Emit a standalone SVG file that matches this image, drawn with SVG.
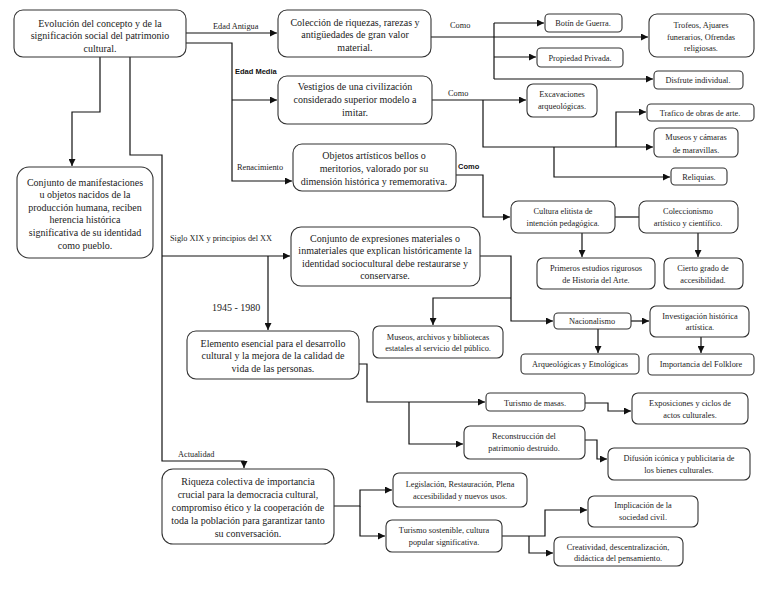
<svg xmlns="http://www.w3.org/2000/svg" width="768" height="594" viewBox="0 0 768 594">
<style>
.b{fill:#fff;stroke:#333;stroke-width:1.1}
.t{font-family:"Liberation Serif","Times New Roman",serif;font-size:10px;fill:#222;text-anchor:middle}
.s{font-size:8.3px}
.l{font-family:"Liberation Serif","Times New Roman",serif;font-size:8.3px;fill:#222}
.lb{font-family:"Liberation Sans",Arial,sans-serif;font-size:7.5px;font-weight:bold;fill:#111}
.c{fill:none;stroke:#111;stroke-width:1.2}
.a{marker-end:url(#ar)}
</style>
<defs>
<marker id="ar" markerUnits="userSpaceOnUse" viewBox="0 0 8 8" refX="8" refY="4" markerWidth="7" markerHeight="7" orient="auto">
<path d="M0,0 L8,4 L0,8 z" fill="#111"/>
</marker>
</defs>
<rect width="768" height="594" fill="#fff"/>
<g id="connectors">
<path class="c a" d="M186,33 H277"/>
<path class="c a" d="M186,43 H232 V181 H292"/>
<path class="c a" d="M232,100 H277"/>
<path class="c a" d="M100,57 V112 H72 V166"/>
<path class="c a" d="M130,57 V155 H162 V461 H244 V468"/>
<path class="c a" d="M162,256 H290"/>
<path class="c a" d="M268,256 V330"/>
<path class="c a" d="M431,37 H648"/>
<path class="c" d="M494,23 V79"/>
<path class="c a" d="M494,23 H544"/>
<path class="c a" d="M494,57 H536"/>
<path class="c a" d="M494,79 H653"/>
<path class="c a" d="M432,100 H526"/>
<path class="c a" d="M483,100 V147 H653"/>
<path class="c a" d="M616,147 V112 H646"/>
<path class="c a" d="M554,147 V177 H670"/>
<path class="c a" d="M456,175 H483 V217 H510"/>
<path class="c" d="M615,217 H639"/>
<path class="c a" d="M582,233 V257"/>
<path class="c a" d="M698,233 V257"/>
<path class="c a" d="M480,256 H511 V321 H553"/>
<path class="c a" d="M511,298 H433 V325"/>
<path class="c a" d="M631,321 H649"/>
<path class="c a" d="M598,329 V353"/>
<path class="c a" d="M701,337 V353"/>
<path class="c a" d="M359,364 H367 V402 H485"/>
<path class="c a" d="M409,402 V444 H463"/>
<path class="c a" d="M585,403 H608 V411 H631"/>
<path class="c a" d="M585,440 H597 V459 H607"/>
<path class="c a" d="M334,506 H360 V490 H392"/>
<path class="c a" d="M360,506 V536 H385"/>
<path class="c a" d="M502,536 H545 V510 H587"/>
<path class="c a" d="M529,536 V553 H553"/>
</g>
<g id="labels">
<text class="l" x="213" y="29">Edad Antigua</text>
<text class="lb" x="235" y="74">Edad Media</text>
<text class="l" x="237" y="170">Renacimiento</text>
<text class="l" x="450" y="28">Como</text>
<text class="l" x="448" y="96">Como</text>
<text class="lb" x="458" y="169">Como</text>
<text class="l" x="170" y="241">Siglo XIX y principios del XX</text>
<text class="l" x="212" y="311" style="font-size:10px">1945 - 1980</text>
<text class="l" x="178" y="457">Actualidad</text>
</g>
<g id="n-evolucion">
<rect class="b" x="14" y="10" width="172" height="47" rx="9"/>
<text class="t" x="100" y="26.5">Evolución del concepto y de la</text>
<text class="t" x="100" y="39">significación social del patrimonio</text>
<text class="t" x="100" y="51.5">cultural.</text>
</g>
<g id="n-manifestaciones">
<rect class="b" x="17" y="167" width="136" height="91" rx="12"/>
<text class="t" x="85" y="185.5">Conjunto de manifestaciones</text>
<text class="t" x="85" y="198">u objetos nacidos de la</text>
<text class="t" x="85" y="210.5">producción humana, reciben</text>
<text class="t" x="85" y="223">herencia histórica</text>
<text class="t" x="85" y="236">significativa de su identidad</text>
<text class="t" x="85" y="249">como pueblo.</text>
</g>
<g id="n-coleccion">
<rect class="b" x="278" y="10" width="153" height="47" rx="9"/>
<text class="t" x="355" y="25.5">Colección de riquezas, rarezas y</text>
<text class="t" x="355" y="38">antigüedades de gran valor</text>
<text class="t" x="355" y="51">material.</text>
</g>
<g id="n-vestigios">
<rect class="b" x="278" y="76" width="154" height="48" rx="9"/>
<text class="t" x="355" y="89.5">Vestigios de una civilización</text>
<text class="t" x="355" y="102.5">considerado superior modelo a</text>
<text class="t" x="355" y="115.5">imitar.</text>
</g>
<g id="n-objetos">
<rect class="b" x="293" y="144" width="163" height="47" rx="9"/>
<text class="t" x="374" y="158.5">Objetos artísticos bellos o</text>
<text class="t" x="374" y="171.5">meritorios, valorado por su</text>
<text class="t" x="374" y="184.5">dimensión histórica y rememorativa.</text>
</g>
<g id="n-expresiones">
<rect class="b" x="291" y="227" width="189" height="59" rx="10"/>
<text class="t" x="385" y="241.5">Conjunto de expresiones materiales o</text>
<text class="t" x="385" y="254">inmateriales que explican históricamente la</text>
<text class="t" x="385" y="266.5">identidad sociocultural debe restaurarse y</text>
<text class="t" x="385" y="279">conservarse.</text>
</g>
<g id="n-elemento">
<rect class="b" x="187" y="331" width="172" height="48" rx="9"/>
<text class="t" x="273" y="346.5">Elemento esencial para el desarrollo</text>
<text class="t" x="273" y="358.5">cultural y la mejora de la calidad de</text>
<text class="t" x="273" y="371.5">vida de las personas.</text>
</g>
<g id="n-museos-archivos">
<rect class="b" x="373" y="326" width="130" height="32" rx="6"/>
<text class="t s" x="438" y="340">Museos, archivos y bibliotecas</text>
<text class="t s" x="438" y="351">estatales al servicio del público.</text>
</g>
<g id="n-riqueza">
<rect class="b" x="162" y="469" width="172" height="75" rx="11"/>
<text class="t" x="248" y="484.5">Riqueza colectiva de importancia</text>
<text class="t" x="248" y="497.5">crucial para la democracia cultural,</text>
<text class="t" x="248" y="510.5">compromiso ético y la cooperación de</text>
<text class="t" x="248" y="523.5">toda la población para garantizar tanto</text>
<text class="t" x="248" y="536.5">su conversación.</text>
</g>
<g id="n-botin">
<rect class="b" x="545" y="14" width="77" height="18" rx="4"/>
<text class="t s" x="583" y="26">Botín de Guerra.</text>
</g>
<g id="n-trofeos">
<rect class="b" x="649" y="14" width="105" height="43" rx="8"/>
<text class="t s" x="701" y="28">Trofeos, Ajuares</text>
<text class="t s" x="701" y="39.5">funerarios, Ofrendas</text>
<text class="t s" x="701" y="51">religiosas.</text>
</g>
<g id="n-propiedad">
<rect class="b" x="537" y="48" width="86" height="19" rx="4"/>
<text class="t s" x="580" y="60.5">Propiedad Privada.</text>
</g>
<g id="n-disfrute">
<rect class="b" x="654" y="71" width="89" height="18" rx="4"/>
<text class="t s" x="698" y="83">Disfrute individual.</text>
</g>
<g id="n-excavaciones">
<rect class="b" x="527" y="84" width="70" height="33" rx="6"/>
<text class="t s" x="562" y="97">Excavaciones</text>
<text class="t s" x="562" y="109">arqueológicas.</text>
</g>
<g id="n-trafico">
<rect class="b" x="647" y="104" width="107" height="17" rx="4"/>
<text class="t s" x="700" y="115.5">Trafico de obras de arte.</text>
</g>
<g id="n-museos-camaras">
<rect class="b" x="654" y="128" width="84" height="29" rx="5"/>
<text class="t s" x="696" y="140">Museos y cámaras</text>
<text class="t s" x="696" y="153">de maravillas.</text>
</g>
<g id="n-reliquias">
<rect class="b" x="671" y="168" width="56" height="17" rx="4"/>
<text class="t s" x="699" y="179.5">Reliquias.</text>
</g>
<g id="n-cultura">
<rect class="b" x="511" y="201" width="104" height="32" rx="7"/>
<text class="t s" x="563" y="214">Cultura elitista de</text>
<text class="t s" x="563" y="226">intención pedagógica.</text>
</g>
<g id="n-coleccionismo">
<rect class="b" x="639" y="201" width="99" height="32" rx="7"/>
<text class="t s" x="688" y="214">Coleccionismo</text>
<text class="t s" x="688" y="226">artístico y científico.</text>
</g>
<g id="n-primeros">
<rect class="b" x="537" y="258" width="118" height="31" rx="6"/>
<text class="t s" x="596" y="271">Primeros estudios rigurosos</text>
<text class="t s" x="596" y="283">de Historia del Arte.</text>
</g>
<g id="n-cierto">
<rect class="b" x="664" y="258" width="79" height="31" rx="6"/>
<text class="t s" x="703" y="271">Cierto grado de</text>
<text class="t s" x="703" y="283">accesibilidad.</text>
</g>
<g id="n-nacionalismo">
<rect class="b" x="554" y="313" width="77" height="16" rx="4"/>
<text class="t s" x="592" y="324">Nacionalismo</text>
</g>
<g id="n-investigacion">
<rect class="b" x="650" y="306" width="99" height="31" rx="6"/>
<text class="t s" x="700" y="319">Investigación histórica</text>
<text class="t s" x="700" y="330">artística.</text>
</g>
<g id="n-arqueologicas">
<rect class="b" x="521" y="354" width="118" height="20" rx="4"/>
<text class="t s" x="580" y="367">Arqueológicas y Etnológicas</text>
</g>
<g id="n-folklore">
<rect class="b" x="648" y="354" width="106" height="21" rx="4"/>
<text class="t s" x="701" y="367">Importancia del Folklore</text>
</g>
<g id="n-turismo-masas">
<rect class="b" x="486" y="393" width="99" height="18" rx="4"/>
<text class="t s" x="535" y="405.5">Turismo de masas.</text>
</g>
<g id="n-exposiciones">
<rect class="b" x="632" y="393" width="116" height="31" rx="6"/>
<text class="t s" x="690" y="406">Exposiciones y ciclos de</text>
<text class="t s" x="690" y="418">actos culturales.</text>
</g>
<g id="n-reconstruccion">
<rect class="b" x="464" y="426" width="121" height="33" rx="6"/>
<text class="t s" x="524" y="439">Reconstrucción del</text>
<text class="t s" x="524" y="451">patrimonio destruido.</text>
</g>
<g id="n-difusion">
<rect class="b" x="608" y="448" width="142" height="32" rx="6"/>
<text class="t s" x="679" y="461">Difusión icónica y publicitaria de</text>
<text class="t s" x="679" y="473">los bienes culturales.</text>
</g>
<g id="n-legislacion">
<rect class="b" x="393" y="473" width="134" height="34" rx="6"/>
<text class="t s" x="460" y="487">Legislación, Restauración, Plena</text>
<text class="t s" x="460" y="499">accesibilidad y nuevos usos.</text>
</g>
<g id="n-turismo-sostenible">
<rect class="b" x="386" y="520" width="116" height="32" rx="6"/>
<text class="t s" x="444" y="533">Turismo sostenible, cultura</text>
<text class="t s" x="444" y="545">popular significativa.</text>
</g>
<g id="n-implicacion">
<rect class="b" x="588" y="496" width="110" height="31" rx="6"/>
<text class="t s" x="643" y="508">Implicación de la</text>
<text class="t s" x="643" y="520">sociedad civil.</text>
</g>
<g id="n-creatividad">
<rect class="b" x="554" y="537" width="129" height="29" rx="6"/>
<text class="t s" x="618" y="550">Creatividad, descentralización,</text>
<text class="t s" x="618" y="561">didáctica del pensamiento.</text>
</g>
</svg>
